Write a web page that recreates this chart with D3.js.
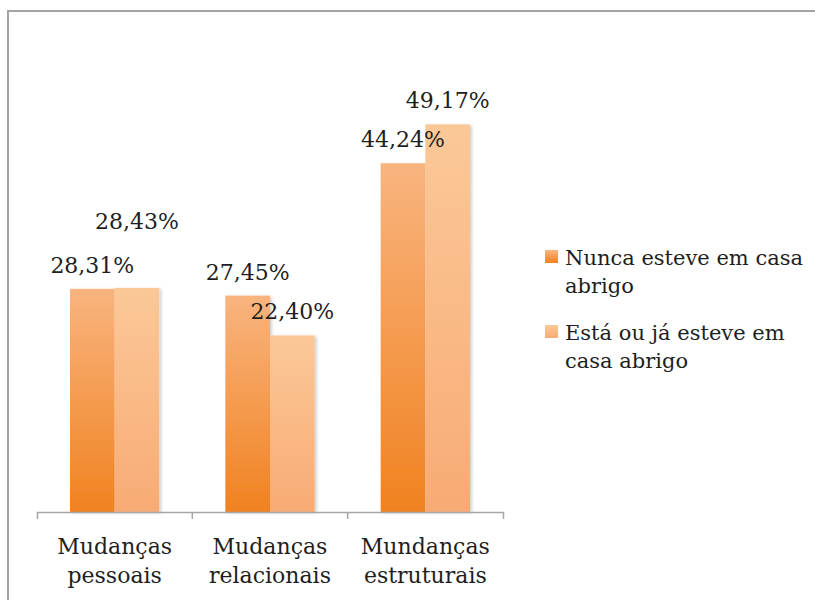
<!DOCTYPE html>
<html>
<head>
<meta charset="utf-8">
<script src="https://cdn.jsdelivr.net/npm/d3@7/dist/d3.min.js"></script>
<style>
  body { margin: 0; background: #fff; }
  svg { display: block; font-family: "DejaVu Serif", serif; }
</style>
</head>
<body>
<svg id="chart" width="815" height="600"></svg>
<script>
// data
const categories = [['Mudanças', 'pessoais'], ['Mudanças', 'relacionais'], ['Mundanças', 'estruturais']];
const seriesNames = [['Nunca esteve em casa', 'abrigo'], ['Está ou já esteve em', 'casa abrigo']];
const nunca = [28.31, 27.45, 44.24];
const esta = [28.43, 22.40, 49.17];

const svg = d3.select('#chart');
const defs = svg.append('defs');

// gradients: lighter top, stronger orange at the bottom
const grads = [
  { id: 'g0', top: '#f9b47f', bottom: '#f08220' },
  { id: 'g1', top: '#fbc898', bottom: '#f8ab74' }
];
grads.forEach(g => {
  const lg = defs.append('linearGradient').attr('id', g.id)
    .attr('x1', 0).attr('y1', 0).attr('x2', 0).attr('y2', 1);
  lg.append('stop').attr('offset', '0%').attr('stop-color', g.top);
  lg.append('stop').attr('offset', '100%').attr('stop-color', g.bottom);
});
const shadow = defs.append('filter').attr('id', 'shadow')
  .attr('x', '-20%').attr('y', '-5%').attr('width', '150%').attr('height', '110%');
shadow.append('feDropShadow').attr('dx', 2).attr('dy', 1).attr('stdDeviation', 1.5)
  .attr('flood-color', '#000').attr('flood-opacity', 0.18);

// outer frame (cut off at right and bottom)
svg.append('rect')
  .attr('x', 8).attr('y', 11).attr('width', 900).attr('height', 700)
  .attr('fill', 'none').attr('stroke', '#a3a3a3').attr('stroke-width', 2);

const baseY = 512;
const x0 = d3.scaleBand().domain(d3.range(categories.length)).range([37, 503]);
const x1 = d3.scaleBand().domain([0, 1]).range([33, x0.bandwidth() - 33]);
const y = d3.scaleLinear().domain([0, 60]).range([baseY, 39]);

const rows = categories.map((c, i) => ({ i, values: [nunca[i], esta[i]] }));

const groups = svg.selectAll('.grp').data(rows).enter().append('g')
  .attr('class', 'grp')
  .attr('transform', d => `translate(${x0(d.i)},0)`);

groups.selectAll('rect').data(d => d.values).enter().append('rect')
  .attr('x', (v, j) => x1(j))
  .attr('width', x1.bandwidth())
  .attr('y', v => y(v))
  .attr('height', v => baseY - y(v))
  .attr('fill', (v, j) => `url(#g${j})`)
  .attr('filter', 'url(#shadow)');

// x axis
const axis = svg.append('g')
  .attr('transform', `translate(0,${baseY})`)
  .call(d3.axisBottom(x0).tickSize(0).tickSizeOuter(7).tickFormat(''));
axis.select('.domain').attr('stroke', '#a6a6a6').attr('stroke-width', 1.5);
axis.selectAll('.inner').data(d3.range(1, categories.length)).enter().append('line')
  .attr('x1', d => x0(d)).attr('x2', d => x0(d))
  .attr('y1', 0).attr('y2', 7)
  .attr('stroke', '#a6a6a6').attr('stroke-width', 1.5);

// category labels
const catText = svg.selectAll('.cat').data(categories).enter().append('text')
  .attr('text-anchor', 'middle')
  .attr('font-size', 22)
  .attr('fill', '#1e1e1e')
  .attr('x', (d, i) => x0(i) + x0.bandwidth() / 2)
  .attr('y', 554);
catText.selectAll('tspan').data(d => d).enter().append('tspan')
  .attr('x', function () { return d3.select(this.parentNode).attr('x'); })
  .attr('dy', (d, k) => k === 0 ? 0 : 29)
  .text(d => d);

// value labels, lifted when they collide with the neighbour
const fmt = v => v.toFixed(2).replace('.', ',') + '%';
rows.forEach(r => {
  let prev = null;
  r.values.forEach((v, j) => {
    const cx = x0(r.i) + x1(j) + x1.bandwidth() / 2;
    let ly = y(v) - 16;
    const halfW = 42;
    if (prev && Math.abs(prev.y - ly) < 24 && Math.abs(prev.x - cx) < 2 * halfW) {
      ly = prev.y - 44;
    }
    svg.append('text')
      .attr('x', cx).attr('y', ly)
      .attr('text-anchor', 'middle')
      .attr('font-size', 22)
      .attr('fill', '#1e1e1e')
      .text(fmt(v));
    prev = { x: cx, y: ly };
  });
});

// legend
const legend = svg.selectAll('.leg').data(seriesNames).enter().append('g')
  .attr('class', 'leg')
  .attr('transform', (d, i) => `translate(545,${250 + i * 75})`);
legend.append('rect')
  .attr('width', 13).attr('height', 13)
  .attr('fill', (d, i) => `url(#g${i})`);
const legText = legend.append('text')
  .attr('x', 20).attr('y', 15)
  .attr('font-size', 21)
  .attr('fill', '#1e1e1e');
legText.selectAll('tspan').data(d => d).enter().append('tspan')
  .attr('x', 20)
  .attr('dy', (d, k) => k === 0 ? 0 : 28)
  .text(d => d);
</script>
</body>
</html>
